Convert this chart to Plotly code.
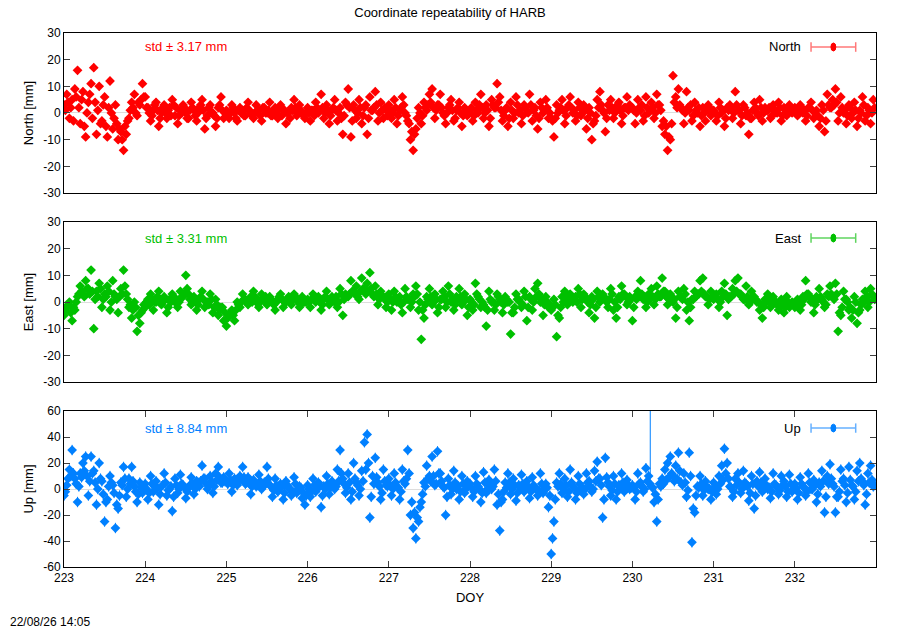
import numpy as np
import plotly.graph_objects as go
from plotly.subplots import make_subplots

# one solution every 24 min, DOY 223.0 .. 232.98 (60 per day)
DOY = 223 + np.arange(600) / 60.0

north_mm = [
    3, 1, 7, 4, -2, 2, 5, -3, 9, 6, 16, 2, -4, 5, 8, -5, -9, 0, 4, 7, 11, -2, 17, 4, -8, 1, 10, -4, -3, 3,
    6, -5, -9, 2, 12, 0, -6, -2, 3, -4, -10, -6, -7, -10, -14, -5, -8, -3, -2, 1, 4, 2, 7, 0, -1, 4, 3, 5, 11, 6,
    6, 2, 2, 0, -3, -1, 1, 3, 4, 1, -5, -2, 0, 2, 3, 0, -2, 1, 2, -1, 5, 3, -1, 2, -4, -1, 1, 0, 3, 2,
    0, -2, -2, 1, 4, 2, 1, -1, -3, 0, 2, 3, 5, 1, -6, -2, -1, 2, 3, 0, 0, -1, -5, -2, 2, 3, 6, 1, -2, 0,
    1, -1, -2, 0, 3, 2, 0, -2, -3, 1, 2, 0, 1, -1, -1, 2, 4, 1, 0, -1, -2, 0, 3, 1, 1, -1, -3, 2, 2, 0,
    0, 1, 4, -1, -1, 1, 2, 0, -2, 2, 3, -1, 1, 1, -4, 0, 0, -2, 2, 1, 5, 2, -1, 0, 3, 1, 0, -1, -2, 0,
    2, 0, -3, 1, 1, -1, 4, 2, 0, 1, 7, 2, -2, 0, 3, 1, -4, -1, 1, 2, 5, 1, -3, 0, 2, -2, -8, -1, 4, 3,
    9, 2, -9, -3, 3, 1, -2, 0, 5, 2, -4, -1, 2, 3, -8, -2, 6, 1, 1, 2, 8, 3, -3, 0, 4, 1, -2, 2, 1, -1,
    3, 1, -2, 0, 5, 2, -4, -1, 1, 2, 6, 3, 0, -1, -3, -4, -10, -7, -14, -8, -6, -2, 2, 0, -4, -1, 4, 2, 1, 3,
    7, 4, 9, 2, -2, 1, 3, 3, 7, 2, 0, -1, -4, 0, 2, 3, 5, 1, -3, -2, 1, 2, 4, 0, -5, -1, 2, 1, -1, 0,
    1, 2, -3, -1, 4, 1, 0, 3, 7, 2, -2, 0, 3, 1, -5, -2, 5, 3, 2, 2, 11, 4, 6, 1, -3, -1, 1, 2, -5, -2,
    4, 1, -2, 0, 6, 3, 0, 1, -4, -1, 3, 2, 1, 0, 7, 3, -3, 1, 2, -1, -6, -2, 4, 2, 0, 1, 5, 2, -2, 0,
    -2, -3, -9, -2, 3, 0, 1, 2, 5, 1, -4, -1, 2, 3, 6, 2, 0, 1, -3, -1, 4, 2, -1, 0, 3, 1, -6, -2, 2, 0,
    -10, -4, -3, -1, 5, 2, 8, 3, 1, 0, -7, -2, 3, 1, 5, 2, -2, 0, 1, 3, 4, 1, -4, -1, 2, 2, 6, 1, 3, 2,
    2, 1, -4, 0, 5, 2, 1, 3, -3, -1, 6, 2, 0, 1, 4, 2, -2, 0, 7, 3, 3, 1, -5, -3, -8, -5, -14, -9, -10, -4,
    14, 4, 6, 2, 9, 3, 2, 1, -4, 0, 8, 2, 1, 3, -3, -1, 4, 1, 0, 2, -5, -1, 2, 0, -3, 1, 3, 2, -1, 0,
    1, 0, -3, -1, 4, 2, 0, 1, -5, -2, 2, 1, 3, 2, -2, 0, 8, 3, 1, 1, -4, -1, 3, 2, -1, 0, -8, -2, -2, 1,
    4, 2, 0, -1, 5, 2, -3, 0, 2, 1, 1, 2, -2, -1, 3, 1, 0, 0, 4, 2, -3, -1, 2, 1, -1, 0, 3, 2, 0, 1,
    2, 1, -1, 0, 3, 2, 0, 1, -3, -1, 2, 2, 4, 1, -2, 0, 1, -1, -5, -2, 3, 1, -7, -3, 7, 3, 2, 2, 5, 3,
    9, 4, -3, 0, 6, 2, 0, 1, -4, -1, 3, 2, -2, 0, 4, 1, -5, -2, 1, 0, 6, 3, -3, -1, 2, 1, -4, 0, 5, 2,
]

east_mm = [
    -5, -3, -2, -1, 0, -4, -7, -2, -3, 0, 2, 3, 6, 4, 3, 2, 8, 5, 5, 3, 12, 4, -10, 1, 4, 2, 7, 5, -2, 1,
    3, 2, 6, 4, -3, 0, 8, 3, 2, 1, -4, 2, 5, 3, 12, 6, 3, 1, -2, -1, -6, -3, 0, -2, -11, -5, -8, -4, -3, -1,
    -2, 0, 1, -1, 3, 1, -3, 0, 0, 2, 4, 1, -1, 0, 2, 1, -4, -2, 1, 0, 3, 2, 0, 1, -2, 0, 4, 2, 2, 3,
    10, 5, 3, 1, -1, 0, 2, 1, -3, -1, 1, 2, 4, 1, -2, 0, 0, -1, 3, 1, -4, -2, 1, -1, -5, -3, -2, -2, -7, -4,
    -9, -6, -5, -4, -3, -5, -7, -3, 0, -1, -2, 0, 3, 1, 1, 0, -1, 1, 2, 0, 4, 2, 0, 1, -2, 0, 3, 1, 1, 2,
    -1, 0, 2, 1, 0, -1, -3, 0, 1, 2, 3, 1, -2, 0, 0, 1, 2, 0, -1, 1, 3, 2, 1, 0, -2, -1, 2, 1, 0, 0,
    1, 0, -2, 1, 3, 2, 0, 1, 2, 0, -3, -1, 1, 2, 4, 1, -1, 0, 2, 1, 0, 2, -2, 0, 5, 3, -5, 1, 3, 2,
    2, 3, 8, 4, 4, 3, 6, 2, 1, 4, 9, 5, 5, 3, 7, 4, 11, 5, 3, 2, 6, 3, -1, 1, 4, 2, 2, 1, -2, 0,
    3, 1, -3, 0, 4, 2, 0, 1, 2, -1, -4, 0, 5, 2, 1, 1, -2, 0, 3, 2, 6, 3, -3, 0, -14, -3, -6, -1, 2, 1,
    5, 2, -1, 0, 3, 1, -4, -2, 1, 1, 4, 2, -2, 0, 6, 3, 0, 1, -3, -1, 2, 1, 5, 2, -1, 0, 3, 1, -5, -2,
    1, 0, -3, -1, 7, 3, 2, 1, -2, 0, -1, -2, -9, -3, 4, 1, 0, 0, -3, -1, 3, 2, 1, 0, -4, -1, 2, 1, 0, 0,
    -12, -4, -4, -2, 3, 1, 1, 0, -2, -1, 4, 2, -7, -2, 2, 1, -3, 0, 5, 2, 7, 3, 0, 1, -5, -1, 2, 0, -2, -1,
    -3, -2, 1, -1, -13, -5, -6, -2, 2, 0, 4, 2, -1, 1, 3, 2, 0, 1, 2, 0, 5, 3, -2, 1, 3, 2, 1, 0, -4, -1,
    2, 1, -6, -2, 4, 2, 0, 1, 3, 2, 1, 0, -2, 1, 5, 3, -3, 0, -6, -2, 2, 1, 6, 3, 3, 2, -1, 0, 2, 1,
    -7, -2, 2, 1, 4, 2, 8, 3, 1, 2, -2, 0, 3, 1, 5, 2, -1, 1, 6, 3, 2, 2, 9, 4, 4, 2, -1, 1, 3, 2,
    0, 1, -6, -2, 4, 2, 2, 1, 5, 3, -3, 0, -7, -2, 1, 1, 4, 2, 3, 3, 8, 4, 9, 3, 2, 2, -1, 1, 4, 2,
    1, 2, 3, 1, -2, 0, 4, 2, 7, 3, -5, 1, 2, 2, 5, 3, 8, 4, 9, 3, 3, 2, 1, 1, 6, 2, -1, 0, 4, 2,
    2, 1, 0, 0, -3, -1, -6, -2, 1, 0, 3, 1, -2, -1, 2, 0, 0, -1, -3, -2, 1, 0, -4, -2, 2, 0, -2, -1, 0, -1,
    -2, -1, 1, 0, -3, -1, 2, 1, 8, 3, 3, 2, 0, 1, -4, -1, 2, 1, 5, 2, 1, 0, -2, -1, 3, 2, 6, 3, 2, 1,
    7, 3, -11, -4, -5, -2, 4, 1, 1, 0, -3, -2, -6, -3, 2, 0, -8, -4, -3, -1, 1, 0, 4, 2, -2, 0, 5, 3, 2, 1,
]

up_mm = [
    -5, -2, 3, 8, 15, 10, 30, 12, 8, 4, -10, 2, 12, 9, 20, 14, 25, 10, -5, 6, 25, 12, 14, 5, -12, 0, 20, 8, 6, -4,
    -25, -10, -8, 2, 10, 5, 3, -3, -30, -12, -15, -5, 5, 3, 17, 8, -6, 0, 8, 4, 17, 6, 2, -2, -10, -4, 5, 1, -3, 2,
    4, 0, -8, -3, 10, 4, -2, 2, 6, 1, -12, -4, 2, 3, 12, 5, -5, -1, 0, 2, -17, -6, 8, 3, -3, 0, 11, 4, 3, 1,
    -7, -2, 1, 3, 9, 4, -4, 0, 6, 5, 2, 6, 18, 8, 8, 4, 0, 3, 10, 6, -3, 2, 12, 7, 17, 9, 5, 5, 9, 6,
    6, 4, 12, 7, -2, 3, 8, 5, 3, 6, 10, 8, 17, 9, 4, 5, 9, 4, -4, 2, 7, 5, 2, 3, 11, 6, 0, 2, 5, 4,
    17, 8, 3, 2, -6, -1, 8, 3, -2, 0, 4, 2, -8, -3, 6, 3, 1, 0, -5, -2, 9, 4, -3, 0, 2, 1, -7, -3, -12, -5,
    3, 0, -6, -2, 8, 3, -2, 1, 5, 2, -14, -5, 2, 0, 10, 4, -4, 1, 6, 3, 0, 2, 15, 6, 30, 12, 8, 4, -3, 1,
    12, 5, -8, -2, 20, 8, 5, 3, -5, 0, 14, 6, 36, 15, 42, 20, -22, -6, 10, 4, 24, 9, 5, 2, -8, -3, 15, 6, 3, 2,
    8, 3, -5, 0, 12, 5, 2, 1, -8, -2, 15, 6, 4, 8, 30, 12, -20, -10, -30, -18, -38, -22, -25, -14, -10, -4, 5, 2, 18, 8,
    10, 6, 25, 10, 3, 4, 29, 12, 12, 6, 2, 1, -20, -6, 8, 3, -4, 0, 14, 5, 0, 2, -8, -2, 10, 4, -3, 0, 6, 3,
    4, 1, -6, -2, 10, 4, 2, 0, -10, -3, 13, 5, -3, 0, 7, 3, 0, 2, 15, 6, -12, -4, -32, -10, -8, -2, 5, 1, 12, 5,
    -4, 0, 8, 3, -9, -3, 3, 1, 11, 4, -2, 0, 6, 2, -7, -2, 9, 3, 1, 0, -5, -1, 12, 4, -3, 0, 4, 1, -14, -5,
    -50, -38, -25, -8, 5, 2, 12, 4, -3, 0, 8, 3, -6, -2, 15, 5, 2, 1, -8, -3, 10, 4, 0, 1, -4, 0, 12, 5, 6, 2,
    -2, 0, 14, 6, 21, 8, 8, 3, -22, -8, 24, 9, 5, 2, -5, -1, 10, 4, -8, -2, 3, 1, 12, 5, -2, 0, 7, 3, 0, 1,
    3, 1, -8, -2, 12, 4, 5, 2, -2, 0, 16, 6, 10, 4, 2, 1, -10, -4, -25, -8, 4, 2, 8, 4, 15, 7, 20, 9, 25, 12,
    10, 6, 18, 8, 28, 14, 5, 3, 12, 5, -6, -1, 28, 10, -41, -15, -18, -5, 2, 1, 10, 4, -5, -1, 6, 2, 0, 0, -8, -2,
    5, 2, -4, 0, 10, 4, 18, 7, 31, 12, 20, 8, 2, 1, -6, -2, 8, 3, 12, 5, -3, 0, 14, 5, 4, 2, -9, -3, 10, 4,
    -15, -5, 6, 2, 13, 5, -2, 0, 8, 3, 0, 1, -7, -2, 12, 4, 3, 1, -4, -1, 10, 3, 6, 2, -6, -2, 11, 4, -2, 0,
    4, 1, -8, -3, 9, 4, 2, 1, -5, -2, 12, 5, 0, 0, 7, 3, -10, -4, 5, 2, 14, 6, -18, -6, 10, 4, 19, 8, 4, 2,
    -18, -6, -6, -2, 15, 6, 8, 3, -10, -3, 17, 7, 3, 2, -8, -2, 14, 6, 20, 8, 6, 3, -12, -4, 12, 5, 18, 7, 2, 3,
]

# one Up solution far off scale with a huge sigma
up_outlier_doy = [230.22]
up_outlier_mm = [120]
up_outlier_sigma = [112]

components = ["North", "East", "Up"]
std_mm = [3.17, 3.31, 8.84]
sigma_mm = [1.5, 1.5, 4.0]
colors = ["#ff0000", "#00c000", "#0080ff"]
light = ["#ff7878", "#5fd45f", "#66b0ff"]
y_lim = [30, 30, 60]
y_step = [10, 10, 20]

FONT = "Liberation Sans, Arial, sans-serif"

fig = make_subplots(rows=3, cols=1, vertical_spacing=0.05)

series = [north_mm, east_mm, up_mm]
for i, name in enumerate(components):
    fig.add_trace(go.Scatter(
        x=DOY, y=series[i], mode="markers", name=name, showlegend=False,
        marker=dict(symbol="diamond", size=7.5, color=colors[i]),
        error_y=dict(type="constant", value=sigma_mm[i], color=colors[i], thickness=1, width=0),
    ), row=i + 1, col=1)

fig.add_trace(go.Scatter(
    x=up_outlier_doy, y=up_outlier_mm, mode="markers", showlegend=False,
    marker=dict(symbol="diamond", size=7.5, color=colors[2]),
    error_y=dict(type="data", array=up_outlier_sigma, color=colors[2], thickness=1, width=0),
), row=3, col=1)

# panel placement (paper fractions of the plot area)
domains = [[0.7004, 1.0], [0.3464, 0.646], [0.0, 0.292]]
legend_y = [0.9125, 0.90, 0.891]

axis_common = dict(showline=True, linecolor="black", linewidth=1, mirror="allticks",
                   ticks="inside", ticklen=6, tickcolor="#404040", showgrid=False,
                   tickfont=dict(family=FONT, size=12, color="black"))

for i, name in enumerate(components):
    vals = list(range(-y_lim[i], y_lim[i] + 1, y_step[i]))
    fig.update_yaxes(axis_common, range=[-y_lim[i], y_lim[i]], domain=domains[i],
                     tickvals=vals, ticktext=[str(v) for v in vals],
                     zeroline=True, zerolinecolor="#dddddd", zerolinewidth=1,
                     title=dict(text=name + " [mm]", font=dict(family=FONT, size=13, color="black"),
                                standoff=6),
                     row=i + 1, col=1)
    last = i == 2
    fig.update_xaxes(axis_common, range=[223, 233], tickvals=list(range(223, 233)),
                     ticktext=[str(d) for d in range(223, 233)],
                     showticklabels=last, ticks="inside" if last else "",
                     zeroline=False,
                     title=dict(text="DOY" if last else "", font=dict(family=FONT, size=13, color="black"),
                                standoff=8),
                     row=i + 1, col=1)

    xr = "x domain" if i == 0 else "x%d domain" % (i + 1)
    yr = "y domain" if i == 0 else "y%d domain" % (i + 1)
    ly = legend_y[i]
    fig.add_annotation(x=0.097, y=ly, xref=xr, yref=yr, xanchor="left", yanchor="middle",
                       text="std \u00b1 %.2f mm" % std_mm[i], showarrow=False,
                       font=dict(family=FONT, size=13, color=colors[i]))
    fig.add_annotation(x=0.910, y=ly, xref=xr, yref=yr, xanchor="right", yanchor="middle",
                       text=name, showarrow=False, font=dict(family=FONT, size=13, color="black"))
    # errorbar-style key
    fig.add_shape(type="line", xref=xr, yref=yr, x0=0.920, x1=0.975, y0=ly, y1=ly,
                  line=dict(color=light[i], width=1.5))
    for xe in (0.920, 0.975):
        fig.add_shape(type="line", xref=xr, yref=yr, x0=xe, x1=xe, y0=ly - 0.03, y1=ly + 0.03,
                      line=dict(color=light[i], width=1.5))
    fig.add_shape(type="circle", xref=xr, yref=yr, x0=0.9445, x1=0.9505, y0=ly - 0.025, y1=ly + 0.025,
                  line=dict(color=colors[i], width=1), fillcolor=colors[i])

fig.add_annotation(x=-0.069, y=-0.103, xref="paper", yref="paper", xanchor="left", yanchor="middle",
                   text="22/08/26 14:05", showarrow=False, font=dict(family=FONT, size=12, color="black"))

fig.update_layout(
    width=900, height=630,
    margin=dict(l=64, r=24, t=33, b=63),
    paper_bgcolor="white", plot_bgcolor="white",
    title=dict(text="Coordinate repeatability of HARB", x=0.5, xanchor="center",
               y=0.981, yanchor="middle", font=dict(family=FONT, size=13, color="black")),
    font=dict(family=FONT, size=12, color="black"),
)

# page body margin would shift the figure by 8 px
fig.write_html("out.html", config={"displayModeBar": False},
               post_script="document.body.style.margin='0';")
